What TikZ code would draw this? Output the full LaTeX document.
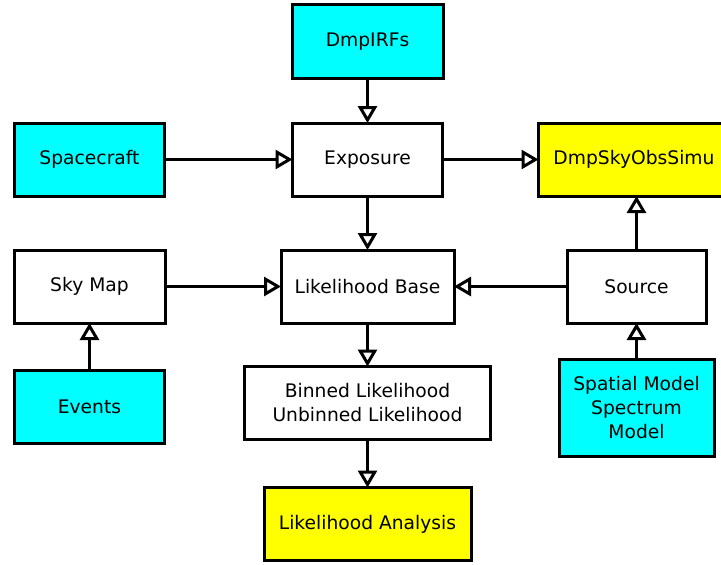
\documentclass[tikz,border=0pt]{standalone}
\usepackage{fontspec}
\setmainfont{DejaVu Sans}
\usetikzlibrary{arrows.meta}
\definecolor{boxcyan}{HTML}{00FFFF}
\definecolor{boxyellow}{HTML}{FFFF00}
\begin{document}
\begin{tikzpicture}[x=1pt,y=-1pt,
  box/.style={draw=black, line width=3pt, inner sep=0pt, outer sep=0pt, align=center,
    font=\fontsize{18.7}{24}\selectfont},
  cyanbox/.style={box, fill=boxcyan},
  yellowbox/.style={box, fill=boxyellow},
  whitebox/.style={box, fill=white},
  arr/.style={line width=3pt, -{Triangle[open, length=17pt, width=19pt, line width=3pt]}}]
\useasboundingbox (0,0) rectangle (721,565);
\node[cyanbox, minimum width=151pt, minimum height=74pt] (irfs) at (367.5,41.5) {DmpIRFs};
\node[cyanbox, minimum width=150pt, minimum height=73pt] (craft) at (89.5,159.5) {Spacecraft};
\node[whitebox, minimum width=150pt, minimum height=73pt] (expo) at (367.5,159.5) {Exposure};
\node[yellowbox, minimum width=191pt, minimum height=73pt] (sim) at (634,159.5) {DmpSkyObsSimu};
\node[whitebox, minimum width=151pt, minimum height=73pt] (sky) at (89.5,286.5) {Sky Map};
\node[whitebox, minimum width=173pt, minimum height=73pt] (lb) at (367.5,286.5) {Likelihood Base};
\node[whitebox, minimum width=139pt, minimum height=73pt] (src) at (636.5,286.5) {Source};
\node[cyanbox, minimum width=150pt, minimum height=73pt] (events) at (89.5,407) {Events};
\node[whitebox, minimum width=246pt, minimum height=73pt] (binned) at (367.5,403) {Binned Likelihood\\Unbinned Likelihood};
\node[cyanbox, minimum width=155pt, minimum height=97pt] (spatial) at (636.5,408) {Spatial Model\\Spectrum\\Model};
\node[yellowbox, minimum width=207pt, minimum height=73pt] (la) at (367.5,524) {Likelihood Analysis};

\draw[arr] (irfs.south) -- (irfs.south |- expo.north);
\draw[arr] (craft.east) -- (craft.east -| expo.west);
\draw[arr] (expo.east) -- (expo.east -| sim.west);
\draw[arr] (expo.south) -- (expo.south |- lb.north);
\draw[arr] (sky.east) -- (sky.east -| lb.west);
\draw[arr] (src.west) -- (src.west -| lb.east);
\draw[arr] (src.north) -- (src.north |- sim.south);
\draw[arr] (spatial.north) -- (spatial.north |- src.south);
\draw[arr] (events.north) -- (events.north |- sky.south);
\draw[arr] (lb.south) -- (lb.south |- binned.north);
\draw[arr] (binned.south) -- (binned.south |- la.north);
\end{tikzpicture}
\end{document}
